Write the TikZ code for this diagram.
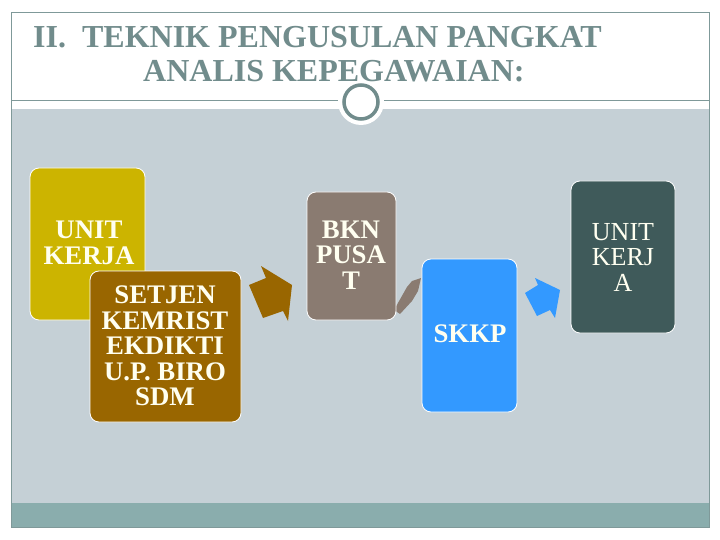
\documentclass[tikz,border=0pt]{standalone}
\usepackage{fontspec}
\setmainfont{Liberation Serif}[BoldFont={Liberation Serif Bold}]
\newfontfamily\serifbold{Liberation Serif Bold}
\definecolor{bggray}{HTML}{C5D0D6}
\definecolor{tealbar}{HTML}{8AADAD}
\definecolor{framec}{HTML}{7F9999}
\definecolor{titlec}{HTML}{718C8C}
\definecolor{goldc}{HTML}{CCB400}
\definecolor{brownc}{HTML}{996600}
\definecolor{bknc}{HTML}{8A7B71}
\definecolor{bluec}{HTML}{3399FF}
\definecolor{darkc}{HTML}{3F5A5A}
\definecolor{textc}{HTML}{FFFFF0}
\begin{document}
\begin{tikzpicture}[x=1pt,y=-1pt,
  box/.style={draw=white,line width=0.8pt,rounded corners=9pt},
  boxtext/.style={text=textc,font=\serifbold\fontsize{26.8}{25.5}\selectfont,align=center,inner sep=0pt},
  boxtextr/.style={text=textc,font=\rmfamily\fontsize{26}{25.5}\selectfont,align=center,inner sep=0pt},
  titletext/.style={text=titlec,font=\serifbold\fontsize{32}{34}\selectfont,inner sep=0pt,anchor=base west}]
\useasboundingbox (0,0) rectangle (720,540);
\fill[white] (0,0) rectangle (720,540);
% background regions
\fill[bggray] (11,109) rectangle (709,503);
\fill[tealbar] (11,503) rectangle (709,527);
\draw[framec,line width=0.8pt] (11,12) rectangle (709,527);
\draw[framec,line width=0.8pt] (11,100) -- (709,100);
% circle
\fill[white] (361,102) circle (23);
\node[circle,draw=titlec,line width=3.5pt,fill=white,minimum size=34pt,inner sep=0pt] (ring) at (361,102) {};
% title
\node[titletext] (t1) at (33,48) {II.\ \ TEKNIK PENGUSULAN PANGKAT};
\node[titletext] (t2) at (143,82) {ANALIS KEPEGAWAIAN:};
% arrows (drawn before boxes that cover them)
\fill[brownc] (261,266) -- (292,285) -- (288,321) -- (283,311) -- (263,318) -- (249,285) -- (266,278) -- cycle;
\fill[bknc] (421,278) -- (412,281) -- (407,287) -- (394,310) -- (400,314) -- (412,301) -- (418,291) -- cycle;
\fill[bluec] (535,278) -- (560,290) -- (555,318) -- (550,310) -- (537,316) -- (525,293) -- (538,285) -- cycle;
% boxes
\draw[box,fill=goldc] (30,168) rectangle (145,320);
\node[boxtext] (uk1) at (89,243) {UNIT\\KERJA};
\draw[box,fill=brownc] (90,271) rectangle (241,422);
\node[boxtext] (setjen) at (165,346) {SETJEN\\KEMRIST\\EKDIKTI\\U.P. BIRO\\SDM};
\draw[box,fill=bknc] (307,192) rectangle (396,320);
\node[boxtext] (bkn) at (351,255) {BKN\\PUSA\\T};
\draw[box,fill=bluec] (422,259) rectangle (517,412);
\node[boxtext] (skkp) at (470,334) {SKKP};
\draw[box,fill=darkc] (571,181) rectangle (675,333);
\node[boxtextr] (uk2) at (623,257) {UNIT\\KERJ\\A};
\end{tikzpicture}
\end{document}
